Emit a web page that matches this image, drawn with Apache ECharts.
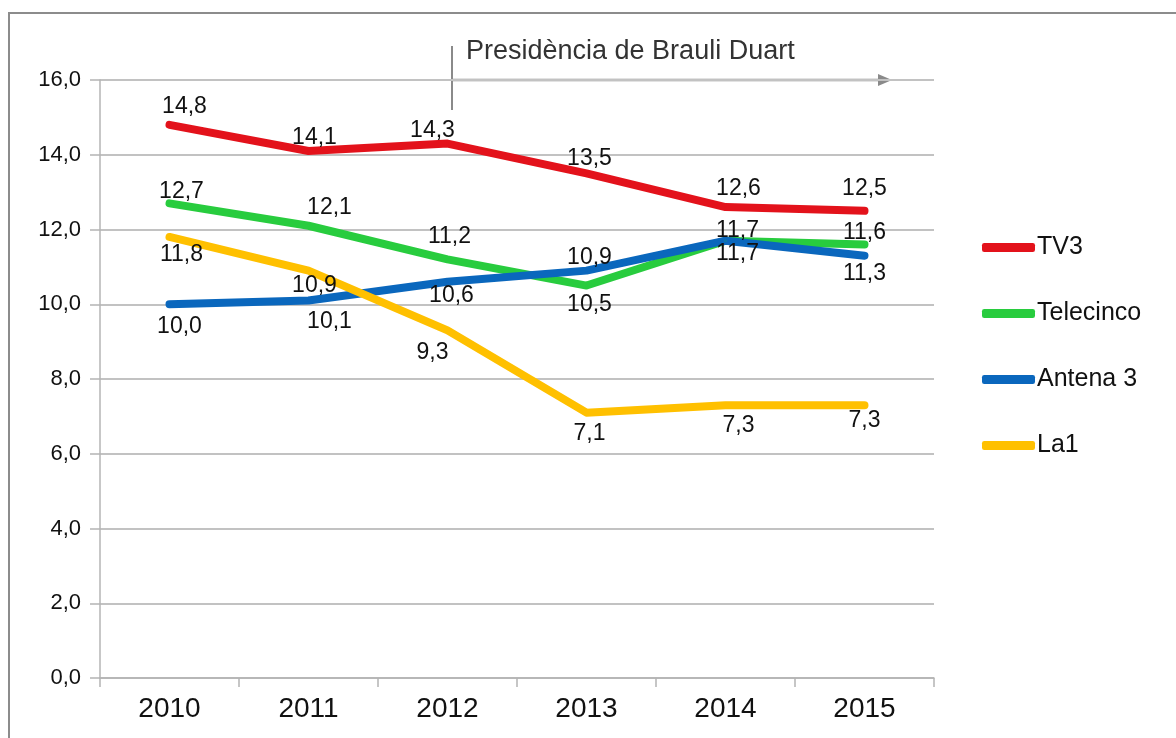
<!DOCTYPE html>
<html>
<head>
<meta charset="utf-8">
<script src="https://cdn.jsdelivr.net/npm/echarts@6/dist/echarts.min.js"></script>
<style>
  html, body { margin: 0; padding: 0; background: #fff; }
  #chart { width: 1176px; height: 738px; }
</style>
</head>
<body>
<div id="chart"></div>
<script>
const years = ['2010', '2011', '2012', '2013', '2014', '2015']
const tv3 = [14.8, 14.1, 14.3, 13.5, 12.6, 12.5]
const telecinco = [12.7, 12.1, 11.2, 10.5, 11.7, 11.6]
const antena3 = [10.0, 10.1, 10.6, 10.9, 11.7, 11.3]
const la1 = [11.8, 10.9, 9.3, 7.1, 7.3, 7.3]
const yTicks = [0, 2, 4, 6, 8, 10, 12, 14, 16]
const note = 'Presidència de Brauli Duart'

const font = "'Liberation Sans', Arial, sans-serif"
const fmt = (v) => Number(v).toFixed(1).replace('.', ',')

// label nudges per point, picked by eye against the original Excel chart
const labelOffsets = {
  TV3: [[15, -18], [6, -13], [-15, -13], [3, -15], [13, -18], [0, -22]],
  Telecinco: [[12, -12], [21, -18], [2, -23], [3, 19], [12, -10], [0, -12]],
  'Antena 3': [[10, 22], [21, 21], [4, 14], [3, -13], [12, 13], [0, 18]],
  La1: [[12, 18], [6, 15], [-15, 22], [3, 21], [13, 20], [0, 15]],
}

const seriesDefs = [
  { name: 'TV3', values: tv3, color: '#e3121b' },
  { name: 'Telecinco', values: telecinco, color: '#28cc3e' },
  { name: 'Antena 3', values: antena3, color: '#0a67bd' },
  { name: 'La1', values: la1, color: '#ffc000' },
]

const chart = echarts.init(document.getElementById('chart'), null, { renderer: 'canvas' })

chart.setOption({
  animation: false,
  backgroundColor: '#fff',
  grid: { left: 100, right: 242, top: 80, bottom: 60, containLabel: false },
  legend: {
    orient: 'vertical',
    left: 977,
    top: 230,
    itemGap: 41,
    itemWidth: 53,
    itemHeight: 9,
    icon: 'roundRect',
    textStyle: { fontFamily: font, fontSize: 25, color: '#111', padding: [0, 0, 0, -3] },
    data: seriesDefs.map((s) => s.name),
  },
  xAxis: {
    type: 'category',
    data: years,
    boundaryGap: true,
    axisLine: { lineStyle: { color: '#b4b4b4', width: 1.5 } },
    axisTick: { show: true, length: 9, lineStyle: { color: '#b4b4b4', width: 1.5 } },
    axisLabel: { fontFamily: font, fontSize: 28, color: '#111', margin: 17 },
    splitLine: { show: false },
  },
  yAxis: {
    type: 'value',
    min: yTicks[0],
    max: yTicks[yTicks.length - 1],
    interval: yTicks[1] - yTicks[0],
    axisLine: { show: true, lineStyle: { color: '#b4b4b4', width: 1.5 } },
    axisTick: { show: true, length: 10, lineStyle: { color: '#b4b4b4', width: 1.5 } },
    axisLabel: { fontFamily: font, fontSize: 22, color: '#111', margin: 19, formatter: fmt },
    splitLine: { lineStyle: { color: '#c2c2c2', width: 2 } },
  },
  series: seriesDefs.map((s) => ({
    name: s.name,
    type: 'line',
    color: s.color,
    symbol: 'circle',
    symbolSize: 2,
    showSymbol: true,
    lineStyle: { width: 8, cap: 'round', join: 'round' },
    emphasis: { disabled: true },
    label: {
      show: true,
      position: 'inside',
      fontFamily: font,
      fontSize: 23,
      color: '#111',
      formatter: (p) => fmt(p.value),
    },
    data: s.values.map((v, i) => ({ value: v, label: { offset: labelOffsets[s.name][i] } })),
  })),
  graphic: [
    {
      type: 'polyline',
      shape: { points: [[9, 738], [9, 13], [1176, 13]] },
      style: { stroke: '#8c8c8c', lineWidth: 2, fill: null },
      silent: true,
    },
    {
      type: 'line',
      shape: { x1: 452, y1: 46, x2: 452, y2: 110 },
      style: { stroke: '#8a8a8a', lineWidth: 2 },
      silent: true,
    },
    {
      type: 'line',
      shape: { x1: 452, y1: 80, x2: 880, y2: 80 },
      style: { stroke: '#8a8a8a', lineWidth: 2.5 },
      silent: true,
    },
    {
      type: 'polygon',
      shape: { points: [[878, 74], [892, 80], [878, 86]] },
      style: { fill: '#8a8a8a' },
      silent: true,
    },
    {
      type: 'text',
      left: 466,
      top: 38,
      style: { text: note, fontFamily: font, fontSize: 27, fill: '#333' },
      silent: true,
    },
  ],
})
</script>
</body>
</html>
